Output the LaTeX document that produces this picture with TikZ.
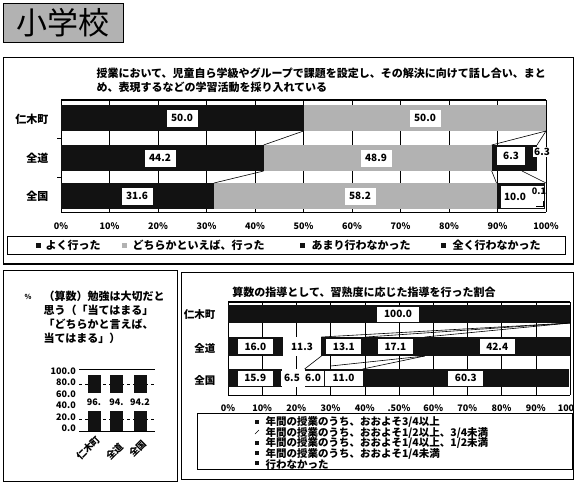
\documentclass[tikz,border=0pt]{standalone}
\usepackage{fontspec}
\setmainfont{Noto Sans CJK JP}
\usepackage{tikz}
\usetikzlibrary{calc, positioning}
\usepackage{xcolor}
\definecolor{dotgray}{RGB}{178,178,178}
\definecolor{barblack}{RGB}{18,18,18}
\newcommand{\fs}[1]{\fontsize{#1}{#1}\selectfont\bfseries}

\begin{document}
\begin{tikzpicture}[x=1pt, y=-1pt, font=\fs{10},
  bar/.style={fill=barblack},
  dotbar/.style={fill=dotgray},
  valbox/.style={fill=white, inner sep=0pt, minimum width=31, minimum height=17},
  panel/.style={draw, line width=0.8pt},
  grid/.style={line width=0.6pt},
  series/.style={line width=0.6pt}]
\useasboundingbox[fill=white] (0,0) rectangle (575,483);

% title
\node[panel, fill=dotgray, minimum width=120, minimum height=39, anchor=north west, inner sep=0pt] (ttl) at (3,3) {};
\node[font=\fontsize{31}{31}\selectfont] (ttltxt) at (ttl.center) {小学校};

% panels
\draw[panel] (3,57) rectangle (573,264);
\draw[line width=1.6pt] (3,264) -- (573,264);
\draw[panel] (3,270) rectangle (177,481);
\draw[panel] (181,272) rectangle (573,479);

% upper chart: heading
\node[anchor=west, font=\fs{11}] (q1) at (93,73) {授業において、児童自ら学級やグループで課題を設定し、その解決に向けて話し合い、まと};
\node[anchor=west, font=\fs{11}] (q2) at (93,87) {め、表現するなどの学習活動を採り入れている};

% upper chart: grid and frame
\foreach \p in {0,10,...,100}
  \draw[grid] ({61+4.85*\p},100) -- ({61+4.85*\p},212);
\draw[line width=1.2pt] (61,100) -- (546,100);
\draw[grid] (61,100) -- (61,212) -- (546,212);
\draw[grid] (57,138) -- (61,138);
\draw[grid] (57,177) -- (61,177);

% upper chart: rows
\node[anchor=east, font=\fs{11}] (ra) at (52,119) {仁木町};
\node[anchor=east, font=\fs{11}] (rb) at (52,158) {全道};
\node[anchor=east, font=\fs{11}] (rc) at (52,196) {全国};

\fill[bar] (61,105) rectangle (303.5,131);
\fill[dotbar] (303.5,105) rectangle (546,131);
\node[valbox] (va1) at (182,118) {50.0};
\node[valbox] (va2) at (425,118) {50.0};

\fill[bar] (61,145) rectangle (263.6,171);
\fill[dotbar] (263.6,145) rectangle (491.7,171);
\fill[bar] (491.7,145) rectangle (537,171);
\node[valbox] (vb1) at (160,158) {44.2};
\node[valbox] (vb2) at (376,158) {48.9};
\node[valbox, minimum width=28, minimum height=18] (vb3) at (511,156) {6.3};
\node[fill=white, inner sep=1pt] (vb4) at (542,152) {6.3};

\fill[bar] (61,183) rectangle (214,209);
\fill[dotbar] (214,183) rectangle (496.5,209);
\fill[bar] (496.5,183) rectangle (545,209);
\node[valbox, minimum width=43, minimum height=22] (vc3) at (522.5,197) {};
\node[valbox] (vc1) at (137,196) {31.6};
\node[valbox] (vc2) at (360,196) {58.2};
\node[inner sep=1pt] (vc3t) at (515,197) {10.0};
\node[inner sep=1pt, font=\fs{9}] (vc4) at (539,191) {0.1};
\draw[grid] (536,206) -- (543,206) -- (543,201);

% upper chart: series lines
\draw[series] (303.5,131) -- (263.6,145);
\draw[series] (263.6,171) -- (214,183);
\draw[series] (546,131) -- (491.7,145);
\draw[series] (546,131) -- (537,145);
\draw[series] (491.7,171) -- (496.5,183);
\draw[series] (522,171) -- (546,183);

% upper chart: axis
\foreach \p [count=\i] in {0,10,...,100}
  \node[font=\fs{9}] (xa\i) at ({61+4.85*\p},226) {\p\%};

% upper chart: legend
\draw[grid] (7,236) rectangle (565,254);
\fill[bar] (36,243) rectangle (41,248);
\node[anchor=west, font=\fs{11}] (la) at (42,245) {よく行った};
\fill[dotbar] (122,243) rectangle (127,248);
\node[anchor=west, font=\fs{11}] (lb) at (129,245) {どちらかといえば、行った};
\fill[bar] (300,243) rectangle (305,248);
\node[anchor=west, font=\fs{11}] (lc) at (308,245) {あまり行わなかった};
\fill[bar] (441,243) rectangle (446,248);
\node[anchor=west, font=\fs{11}] (ld) at (449,245) {全く行わなかった};

% left chart: question
\node[font=\fs{7}] (pct) at (28,297) {\%};
\node[anchor=west, font=\fs{11}] (s1) at (40,296) {（算数）勉強は大切だと};
\node[anchor=west, font=\fs{11}] (s2) at (40,310) {思う（「当てはまる」};
\node[anchor=west, font=\fs{11}] (s3) at (40,324) {「どちらかと言えば、};
\node[anchor=west, font=\fs{11}] (s4) at (40,338) {当てはまる」）};

% left chart: axis and bars
\foreach \v [count=\i from 0] in {100.0,80.0,60.0,40.0,20.0,0.0}
  \node[anchor=east, font=\fs{9}, inner sep=1pt] (ya\i) at (77,{371+11.5*\i}) {\v};
\draw[line width=1pt] (79,369) -- (155,369);
\draw[grid, dashed] (79,384) -- (155,384);
\draw[grid, dashed] (79,419) -- (155,419);
\draw[grid] (79,431) -- (155,431);
\foreach \c/\t [count=\i] in {94/96., 116.5/94., 140/94.2} {
  \fill[bar] ({\c-6.5},375) rectangle ({\c+6.5},393);
  \fill[bar] ({\c-6.5},411) rectangle ({\c+6.5},431);
  \node[font=\fs{9}] (bv\i) at (\c,402) {\t};
}
\node[rotate=45, anchor=east, font=\fs{9.5}, inner sep=1pt] (ca) at (99,437) {仁木町};
\node[rotate=45, anchor=east, font=\fs{9.5}, inner sep=1pt] (cb) at (122,444) {全道};
\node[rotate=45, anchor=east, font=\fs{9.5}, inner sep=1pt] (cc) at (145,441) {全国};

% right chart: heading
\node[font=\fs{11}] (hd) at (364,292) {算数の指導として、習熟度に応じた指導を行った割合};

% right chart: grid and frame
\foreach \p in {0,10,...,100}
  \draw[grid] ({228+3.42*\p},302) -- ({228+3.42*\p},395);
\draw[line width=1.2pt] (228,302) -- (570,302);
\draw[grid] (228,302) -- (228,395) -- (570,395);

% right chart: rows
\node[anchor=east, font=\fs{10.5}] (rd) at (219,315) {仁木町};
\node[anchor=east, font=\fs{10.5}] (re) at (219,348) {全道};
\node[anchor=east, font=\fs{10.5}] (rf) at (219,380) {全国};

\fill[bar] (228,305) rectangle (570,323);
\node[valbox, minimum width=42, minimum height=15] (vd1) at (398,314) {100.0};

\fill[bar] (228,337) rectangle (282.7,356);
\fill[white] (282.7,337) rectangle (321.4,356);
\fill[bar] (321.4,337) rectangle (569.7,356);
\foreach \c/\t [count=\i] in {255.4/16.0, 302/11.3, 343.8/13.1, 395.4/17.1, 497.2/42.4}
  \node[valbox, minimum width=35, minimum height=15] (ve\i) at (\c,346.5) {\t};

\fill[bar] (228,369) rectangle (282.4,387);
\fill[white] (282.4,369) rectangle (304.6,387);
\fill[bar] (304.6,369) rectangle (568.9,387);
\foreach \c/\w/\t [count=\i] in {255.2/35/15.9, 292/22/6.5, 313/22/6.0, 343.5/38/11.0, 465.8/35/60.3}
  \node[valbox, minimum width=\w, minimum height=15] (vf\i) at (\c,378) {\t};

% right chart: series lines
\draw[series] (570,323) -- (321.4,337);
\draw[series] (570,323) -- (366.2,337);
\draw[series] (570,323) -- (424.7,337);
\draw[series] (321.4,356) -- (304.6,369);
\draw[series] (424.7,356) -- (330.6,366);
\draw[series] (424.7,356) -- (362.7,369);

% right chart: axis
\foreach \p/\t [count=\i] in {0/0\%, 10/10\%, 20/20\%, 30/30\%, 40/40\%, 50/.50\%, 60/60\%, 70/70\%, 80/80\%, 90/90\%}
  \node[font=\fs{9}] (xb\i) at ({228+3.42*\p},408) {\t};
\node[font=\fs{9}] (xb11) at (566,408) {100};

% right chart: legend
\draw[grid] (197,413) rectangle (572,469);
\foreach \y in {422,443,453,463}
  \fill[bar] (255,{\y-2}) rectangle (259,{\y+2});
\draw[grid] (255,434) -- (259,430);
\node[anchor=west, font=\fs{10.5}] (le1) at (262,422) {年間の授業のうち、おおよそ3/4以上};
\node[anchor=west, font=\fs{10.5}] (le2) at (262,432.5) {年間の授業のうち、おおよそ1/2以上、3/4未満};
\node[anchor=west, font=\fs{10.5}] (le3) at (262,443) {年間の授業のうち、おおよそ1/4以上、1/2未満};
\node[anchor=west, font=\fs{10.5}] (le4) at (262,453.5) {年間の授業のうち、おおよそ1/4未満};
\node[anchor=west, font=\fs{10.5}] (le5) at (262,464) {行わなかった};
\end{tikzpicture}
\end{document}
